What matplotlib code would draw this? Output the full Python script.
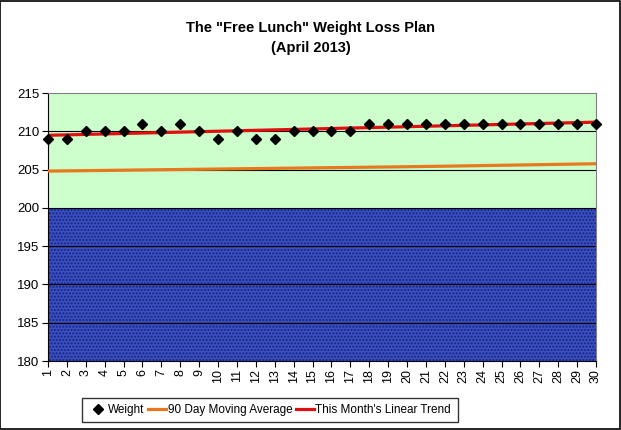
import numpy as np
import matplotlib
matplotlib.use("Agg")
import matplotlib.pyplot as plt
from matplotlib.patches import Rectangle

plt.rcParams['font.family'] = ['Liberation Sans', 'DejaVu Sans']

# data
days = list(range(1, 31))
weight = [209, 209, 210, 210, 210, 211, 210, 211, 210, 209,
          210, 209, 209, 210, 210, 210, 210, 211, 211, 211,
          211, 211, 211, 211, 211, 211, 211, 211, 211, 211]
moving_avg = [204.80, 204.83, 204.86, 204.89, 204.92, 204.95, 204.98, 205.01, 205.04, 205.07,
              205.10, 205.13, 205.16, 205.19, 205.22, 205.25, 205.28, 205.31, 205.34, 205.37,
              205.41, 205.44, 205.48, 205.52, 205.56, 205.60, 205.64, 205.68, 205.72, 205.76]
y_ticks = [180, 185, 190, 195, 200, 205, 210, 215]

# linear trend of this month's weights
coef = np.polyfit(days, weight, 1)
trend = np.polyval(coef, days)

fig = plt.figure(figsize=(6.21, 4.30), dpi=100)
fig.patch.set_facecolor('white')
fig.add_artist(Rectangle((0.0008, 0.0012), 0.9975, 0.9965, transform=fig.transFigure,
                         fill=False, edgecolor='black', linewidth=1.2))

ax = fig.add_axes([48 / 621, 1 - 361 / 430, 548 / 621, 268 / 430])
ax.set_xlim(1, 30)
ax.set_ylim(180, 215)

# background bands
ax.axhspan(200, 215, facecolor='#CCFFCC', zorder=0)
ax.axhspan(180, 200, facecolor='#3B50BC', zorder=0)
ax.axhspan(180, 200, facecolor='none', edgecolor='#14238A', hatch='.....', linewidth=0, zorder=0)

for yv in [185, 190, 195, 200, 205, 210]:
    ax.axhline(yv, color='black', linewidth=0.8, zorder=1)

ax.plot(days, moving_avg, color='#E8781E', linewidth=2.3, label='90 Day Moving Average', zorder=3)
ax.plot(days, trend, color='#E01010', linewidth=2.3, label="This Month's Linear Trend", zorder=4)
ax.plot(days, weight, linestyle='none', marker='D', markersize=5.5, color='black',
        label='Weight', zorder=5, clip_on=False)

ax.set_yticks(y_ticks)
ax.set_xticks(days)
ax.set_xticklabels([str(d) for d in days], rotation=90, fontsize=9)
ax.tick_params(axis='y', labelsize=9.5, direction='out', length=4, pad=2)
ax.tick_params(axis='x', direction='out', length=4, pad=2)

for s in ['top', 'right']:
    ax.spines[s].set_color('#808080')
for s in ['left', 'bottom']:
    ax.spines[s].set_color('black')

fig.text(0.5, 1 - 28 / 430, 'The "Free Lunch" Weight Loss Plan', ha='center', va='center',
         fontsize=10.5, fontweight='bold')
fig.text(0.5, 1 - 48 / 430, '(April 2013)', ha='center', va='center',
         fontsize=10.5, fontweight='bold')

h, l = ax.get_legend_handles_labels()
order = [2, 0, 1]
leg = fig.legend([h[i] for i in order], [l[i] for i in order], loc='center',
                 bbox_to_anchor=(270 / 621, 1 - 410 / 430), ncol=3, fontsize=8.5,
                 frameon=True, fancybox=False, handlelength=1.5, handletextpad=0.15,
                 columnspacing=0.3, borderpad=0.55, borderaxespad=0)
leg.get_frame().set_edgecolor('black')
leg.get_frame().set_linewidth(1.0)

fig.savefig('out.png', dpi=100)
